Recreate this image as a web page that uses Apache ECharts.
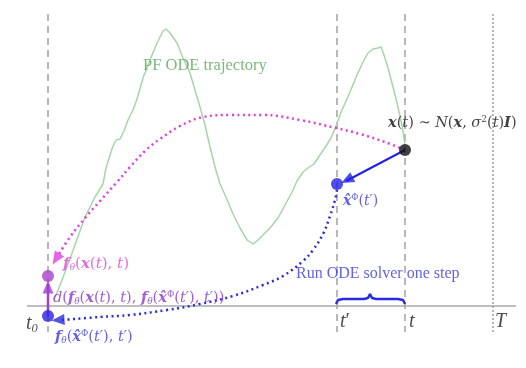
<!DOCTYPE html>
<html>
<head>
<meta charset="utf-8">
<script src="https://cdn.jsdelivr.net/npm/echarts@6/dist/echarts.min.js"></script>
<style>
  html, body { margin: 0; padding: 0; background: #fff; }
  #chart { width: 526px; height: 368px; }
</style>
</head>
<body>
<div id="chart"></div>
<script>
// positions on the time axis (x) and diagram height (y, downwards)
const timeMarks = [
  { name: 't0', x: 48, dash: [7, 5], color: '#b8b8b8' },
  { name: "t'", x: 337, dash: [7, 5], color: '#b8b8b8' },
  { name: 't', x: 405, dash: [7, 5], color: '#b8b8b8' },
  { name: 'T', x: 493, dash: [2, 2], color: '#a0a0a0' },
]
const markTop = 14
const markBottom = 332
const axisY = 306
const axisSpan = [27, 516]

// PF ODE trajectory
const trajectory = [
  [54, 300], [60, 285], [67, 267], [75, 245], [85, 217], [95, 197], [103, 184],
  [106, 168], [110, 155], [113, 146], [116, 140], [120, 139], [124, 131], [128, 120],
  [133, 110], [137, 99], [143, 78], [150, 60], [157, 43], [163, 31], [166, 29],
  [170, 33], [177, 43], [183, 58], [190, 73], [195, 90], [200, 107], [205, 125],
  [210, 147], [215, 167], [220, 184], [226, 197], [233, 214], [240, 228], [247, 240],
  [253, 244], [258, 240], [263, 235], [270, 228], [278, 218], [285, 205], [292, 192],
  [297, 181], [303, 172], [308, 168], [314, 164], [320, 155], [326, 146], [331, 138],
  [336, 126], [342, 110], [350, 92], [357, 75], [363, 62], [368, 53], [373, 49],
  [378, 48], [381, 47], [384, 55], [388, 68], [393, 87], [397, 103], [400, 116],
  [403, 131], [405, 146],
]

// consistency path x(t) -> f(x(t), t)
const pinkPath = [
  [405, 150], [385, 142], [360, 134], [336, 128], [300, 120], [263, 115], [230, 115],
  [203, 117], [180, 126], [160, 139], [145, 151], [130, 167], [117, 182], [100, 201],
  [85, 218], [70, 237], [59, 254],
]
// one ODE step x(t) -> x̂(t')
const stepPath = [[405, 150], [346, 181]]
// x̂(t') -> f(x̂(t'), t')
const bluePath = [
  [337, 190], [335, 200], [330, 216], [323, 234], [313, 250], [303, 261], [283, 276],
  [263, 285], [233, 296], [200, 304], [167, 310], [130, 315], [100, 317], [62, 320],
]
// distance between the two outputs
const distPath = [[48, 316], [48, 284]]
const brace = [
  [336, 304], [338, 300], [343, 299], [364, 299], [368, 298], [370, 294], [372, 298],
  [376, 299], [398, 299], [403, 300], [405, 304],
]

const points = [
  { at: [405, 150], color: '#111111' },
  { at: [337, 184], color: '#2222e6' },
  { at: [48, 276], color: '#a540c8' },
  { at: [48, 316], color: '#2a22e0' },
]
const arrowHeads = [
  { at: [56, 259], from: [70, 237], color: '#e03ee0' },
  { at: [347, 180], from: [405, 150], color: '#2222e6' },
  { at: [58, 320], from: [100, 317], color: '#2b2bdc' },
  { at: [48, 287], from: [48, 316], color: '#a23fd6' },
]

const serif = '"Liberation Serif", "DejaVu Serif", serif'
const mathSerif = '"DejaVu Serif", "Liberation Serif", serif'
const labels = [
  { at: [143, 66], text: 'PF ODE trajectory', color: '#5aa65a', size: 16.5, font: serif },
  { at: [388, 123], text: '{b|x}({i|t}) ∼ {i|N}({b|x}, {i|σ}{sup|2}({i|t}){b|I})', color: '#111', size: 14.5, font: mathSerif },
  { at: [343, 201], text: '{b|x̂}{sup|Φ}({i|t}′)', color: '#3a3ae0', size: 14, font: mathSerif },
  { at: [296, 274], text: 'Run ODE solver one step', color: '#3a3ae0', size: 16, font: serif },
  { at: [63, 264], text: '{b|f}{sub|θ}({b|x}({i|t}), {i|t})', color: '#d94ad9', size: 15, font: mathSerif },
  { at: [53, 298], text: '{i|d}({b|f}{sub|θ}({b|x}({i|t}), {i|t}), {b|f}{sub|θ}({b|x̂}{sup|Φ}({i|t}′), {i|t}′))', color: '#8a35c8', size: 14.5, font: mathSerif },
  { at: [55, 337], text: '{b|f}{sub|θ}({b|x̂}{sup|Φ}({i|t}′), {i|t}′)', color: '#3a3ae0', size: 14.5, font: mathSerif },
  { at: [26, 324], text: '{i|t}{sub|0}', color: '#222', size: 20, font: serif },
  { at: [340, 322], text: "{i|t}′", color: '#222', size: 20, font: serif },
  { at: [409, 322], text: '{i|t}', color: '#222', size: 20, font: serif },
  { at: [495, 322], text: '{i|T}', color: '#222', size: 20, font: serif },
]

function richFor(size, font) {
  return {
    b: { fontFamily: font, fontStyle: 'italic', fontWeight: 'bold', fontSize: size },
    i: { fontFamily: font, fontStyle: 'italic', fontSize: size },
    sub: { fontFamily: font, fontStyle: 'italic', fontSize: size * 0.62, padding: [size * 0.45, 0, 0, 0] },
    sup: { fontFamily: font, fontSize: size * 0.62, padding: [0, 0, size * 0.5, 0] },
  }
}

function rotationOf(from, to) {
  const a = Math.atan2(-(to[1] - from[1]), to[0] - from[0]) * 180 / Math.PI
  return a - 90
}

const chart = echarts.init(document.getElementById('chart'), null, { renderer: 'canvas' })

const series = []

timeMarks.forEach((m) => {
  series.push({
    type: 'line',
    data: [[m.x, markTop], [m.x, markBottom]],
    symbol: 'none',
    silent: true,
    lineStyle: { color: m.color, width: m.name === 'T' ? 1.5 : 2, type: m.dash },
    z: 1,
  })
})

series.push({
  type: 'line',
  data: [[axisSpan[0], axisY], [axisSpan[1], axisY]],
  symbol: 'none',
  lineStyle: { color: '#aaaaaa', width: 1.5 },
  z: 1,
})

series.push({
  type: 'line',
  data: trajectory,
  symbol: 'none',
  lineStyle: { color: '#a9d4a9', width: 1.5 },
  z: 2,
})

series.push({
  type: 'line',
  data: pinkPath,
  smooth: 0.4,
  symbol: 'none',
  lineStyle: { color: '#e03ee0', width: 2.5, type: [2, 3.5] },
  z: 3,
})

series.push({
  type: 'line',
  data: bluePath,
  smooth: 0.4,
  symbol: 'none',
  lineStyle: { color: '#2b2bdc', width: 2.5, type: [2, 3.5] },
  z: 3,
})

series.push({
  type: 'line',
  data: stepPath,
  symbol: 'none',
  lineStyle: { color: '#2222e6', width: 2 },
  z: 3,
})

series.push({
  type: 'line',
  data: distPath,
  symbol: 'none',
  lineStyle: { color: '#a23fd6', width: 2.5 },
  z: 3,
})

series.push({
  type: 'line',
  data: brace,
  symbol: 'none',
  lineStyle: { color: '#2a2ae0', width: 2.5 },
  z: 3,
})

series.push({
  type: 'scatter',
  data: arrowHeads.map((h) => ({
    value: h.at,
    symbolRotate: rotationOf(h.from, h.at),
    itemStyle: { color: h.color },
  })),
  symbol: 'triangle',
  symbolSize: [11, 13],
  z: 4,
})

series.push({
  type: 'scatter',
  data: points.map((p) => ({ value: p.at, itemStyle: { color: p.color } })),
  symbolSize: 12,
  z: 5,
})

series.push({
  type: 'scatter',
  data: labels.map((l) => ({
    value: l.at,
    label: {
      show: true,
      position: 'right',
      distance: 0,
      formatter: l.text,
      color: l.color,
      fontFamily: l.font,
      fontSize: l.size,
      rich: richFor(l.size, l.font),
    },
  })),
  symbolSize: 0,
  z: 6,
})

chart.setOption({
  animation: false,
  backgroundColor: '#ffffff',
  grid: { left: 0, right: 0, top: 0, bottom: 0 },
  xAxis: { type: 'value', min: 0, max: 526, show: false },
  yAxis: { type: 'value', min: 0, max: 368, inverse: true, show: false },
  series: series,
})
</script>
</body>
</html>
